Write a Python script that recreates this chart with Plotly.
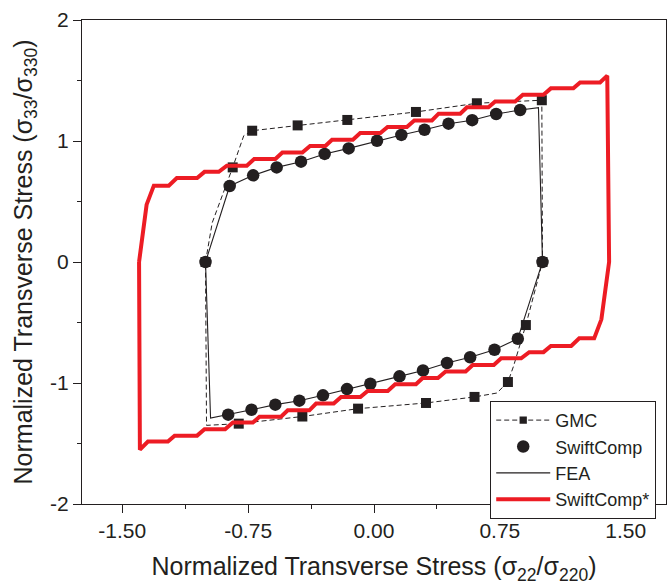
import plotly.graph_objects as go

# ---------------- data ----------------
# SwiftComp* (red stair-step loop): upper branch then lower branch
red_upper_x = [-1.400, -1.355, -1.312, -1.223, -1.175, -1.054, -1.010, -0.925, -0.877, -0.758,
               -0.714, -0.588, -0.546, -0.427, -0.381, -0.290, -0.250, -0.126, -0.082, 0.038,
               0.081, 0.196, 0.240, 0.345, 0.385, 0.514, 0.554, 0.682, 0.722, 0.841,
               0.887, 1.010, 1.054, 1.188, 1.228, 1.347, 1.390, 1.401]
red_upper_y = [0.000, 0.474, 0.631, 0.631, 0.694, 0.694, 0.745, 0.745, 0.796, 0.796,
               0.851, 0.851, 0.905, 0.905, 0.959, 0.959, 1.011, 1.011, 1.066, 1.066,
               1.116, 1.116, 1.170, 1.170, 1.226, 1.226, 1.279, 1.279, 1.327, 1.327,
               1.383, 1.383, 1.435, 1.435, 1.484, 1.484, 1.540, 0.000]
red_lower_x = [1.355, 1.312, 1.223, 1.175, 1.054, 1.010, 0.925, 0.877, 0.758, 0.714,
               0.588, 0.546, 0.427, 0.381, 0.290, 0.250, 0.126, 0.082, -0.038, -0.081,
               -0.196, -0.240, -0.345, -0.385, -0.514, -0.554, -0.682, -0.722, -0.841, -0.887,
               -1.010, -1.054, -1.188, -1.228, -1.347, -1.395, -1.400]
red_lower_y = [-0.474, -0.631, -0.631, -0.694, -0.694, -0.745, -0.745, -0.796, -0.796, -0.851,
               -0.851, -0.905, -0.905, -0.959, -0.959, -1.011, -1.011, -1.066, -1.066, -1.116,
               -1.116, -1.170, -1.170, -1.226, -1.226, -1.279, -1.279, -1.327, -1.327, -1.383,
               -1.383, -1.435, -1.435, -1.484, -1.484, -1.551, 0.000]

# SwiftComp (circles)
sc_x = [-1.004, -0.860, -0.720, -0.580, -0.435, -0.294, -0.151, 0.018, 0.163, 0.301,
        0.444, 0.585, 0.728, 0.871, 1.004, 0.857, 0.718, 0.573, 0.435, 0.292,
        0.152, -0.022, -0.161, -0.304, -0.445, -0.588, -0.730, -0.869]
sc_y = [0.000, 0.628, 0.716, 0.782, 0.829, 0.893, 0.939, 1.002, 1.050, 1.093,
        1.143, 1.172, 1.223, 1.256, 0.000, -0.634, -0.725, -0.787, -0.835, -0.897,
        -0.945, -1.006, -1.050, -1.102, -1.146, -1.179, -1.221, -1.262]

# FEA (thin solid line)
fea_x = [-1.004, -0.860, -0.720, -0.580, -0.435, -0.294, -0.151, 0.018, 0.163, 0.301,
         0.444, 0.585, 0.728, 0.871, 0.980, 1.004, 0.857, 0.718, 0.573, 0.435,
         0.292, 0.152, -0.022, -0.161, -0.304, -0.445, -0.588, -0.730, -0.869, -0.974,
         -1.004]
fea_y = [0.000, 0.628, 0.716, 0.782, 0.829, 0.893, 0.939, 1.002, 1.050, 1.093,
         1.143, 1.172, 1.223, 1.256, 1.275, 0.000, -0.634, -0.725, -0.787, -0.835,
         -0.897, -0.945, -1.006, -1.050, -1.102, -1.146, -1.179, -1.221, -1.262, -1.289,
         0.000]

# GMC (dashed curve; gmc_is_sample marks the computed points shown as squares)
gmc_x = [-1.004, -0.964, -0.842, -0.776, -0.726, -0.455, -0.159, 0.250, 0.613, 1.000,
         1.004, 0.905, 0.831, 0.798, 0.732, 0.599, 0.310, -0.095, -0.427, -0.806,
         -0.998, -1.004]
gmc_y = [0.000, 0.325, 0.782, 1.044, 1.085, 1.129, 1.174, 1.240, 1.312, 1.337,
         0.000, -0.521, -0.863, -0.992, -1.083, -1.115, -1.165, -1.212, -1.277, -1.336,
         -1.350, 0.000]
gmc_is_sample = [True, False, True, False, True, True, True, True, True, True,
                 True, True, False, True, False, True, True, True, True, True,
                 False, False]

x_tick_vals = [-1.5, -0.75, 0.0, 0.75, 1.5]
x_tick_text = ["-1.50", "-0.75", "0.00", "0.75", "1.50"]
x_minor_vals = [-1.125, -0.375, 0.375, 1.125]
y_tick_vals = [-2, -1, 0, 1, 2]
y_tick_text = ["-2", "-1", "0", "1", "2"]
y_minor_vals = [-1.5, -0.5, 0.5, 1.5]

# ---------------- figure ----------------
INK = "#231F20"
RED = "#ED1C24"
FONT = "Arial, 'Liberation Sans', sans-serif"

fig = go.Figure()

fig.add_trace(go.Scatter(
    x=gmc_x, y=gmc_y, mode="lines+markers", name="GMC",
    line=dict(color=INK, width=1, dash="5px,3px"),
    marker=dict(symbol="square", color=INK, opacity=1, line=dict(width=0),
                size=[10 if s else 0 for s in gmc_is_sample]),
    legendrank=1,
))
fig.add_trace(go.Scatter(
    x=fea_x, y=fea_y, mode="lines", name="FEA",
    line=dict(color=INK, width=1.1), legendrank=3,
))
fig.add_trace(go.Scatter(
    x=sc_x, y=sc_y, mode="markers", name="SwiftComp",
    marker=dict(symbol="circle", color=INK, opacity=1, size=12.5, line=dict(width=0)),
    legendrank=2,
))
fig.add_trace(go.Scatter(
    x=red_upper_x + red_lower_x, y=red_upper_y + red_lower_y, mode="lines",
    name="SwiftComp*", line=dict(color=RED, width=4), legendrank=4,
))

axis_common = dict(
    showline=True, mirror=True, linecolor=INK, linewidth=1.3,
    ticks="outside", ticklen=8, tickwidth=1.3, tickcolor=INK,
    showgrid=False, zeroline=False,
    tickfont=dict(family=FONT, size=21, color=INK),
)

fig.update_xaxes(
    range=[-1.74, 1.74], tickmode="array", tickvals=x_tick_vals, ticktext=x_tick_text,
    minor=dict(tickmode="array", tickvals=x_minor_vals, ticks="outside", ticklen=4,
               tickwidth=1.3, tickcolor=INK),
    title=dict(text="Normalized Transverse Stress (σ<sub>22</sub>/σ<sub>220</sub>)",
               font=dict(family=FONT, size=25, color=INK), standoff=16),
    **axis_common,
)
fig.update_yaxes(
    range=[-2, 2], tickmode="array", tickvals=y_tick_vals, ticktext=y_tick_text,
    minor=dict(tickmode="array", tickvals=y_minor_vals, ticks="outside", ticklen=4,
               tickwidth=1.3, tickcolor=INK),
    title=dict(text="Normalized Transverse Stress (σ<sub>33</sub>/σ<sub>330</sub>)",
               font=dict(family=FONT, size=25, color=INK), standoff=10),
    **axis_common,
)

fig.update_layout(
    width=670, height=586,
    margin=dict(l=82, r=4, t=20, b=82, autoexpand=False),
    plot_bgcolor="white", paper_bgcolor="white",
    font=dict(family=FONT, size=21, color=INK),
    legend=dict(
        x=0.699, y=0.213, xanchor="left", yanchor="top",
        bgcolor="white", bordercolor=INK, borderwidth=1,
        font=dict(family=FONT, size=18, color=INK),
        itemwidth=54, tracegroupgap=0,
    ),
)

fig.write_html("out.html")
